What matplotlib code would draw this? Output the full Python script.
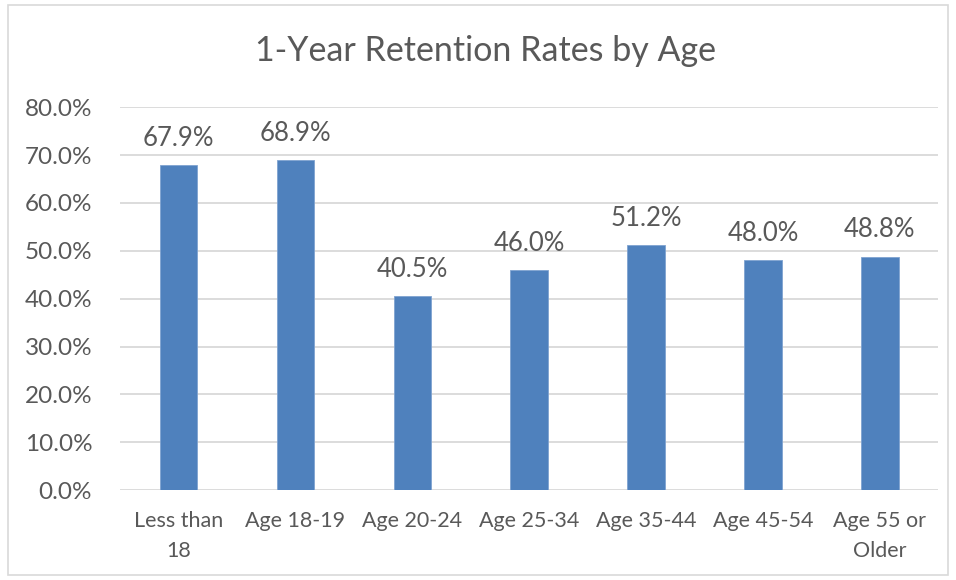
import matplotlib.pyplot as plt
from matplotlib.patches import Rectangle

categories = ['Less than\n18', 'Age 18-19', 'Age 20-24', 'Age 25-34',
              'Age 35-44', 'Age 45-54', 'Age 55 or\nOlder']
rates = [67.9, 68.9, 40.5, 46.0, 51.2, 48.0, 48.8]
yticks = [0, 10, 20, 30, 40, 50, 60, 70, 80]

plt.rcParams['font.family'] = ['Lato', 'DejaVu Sans']
text_col = '#595959'

fig = plt.figure(figsize=(9.56, 5.8), dpi=100)
ax = fig.add_axes([0.1255, 0.155, 0.856, 0.66])

x = range(len(categories))
bars = ax.bar(x, rates, width=0.32, color='#4F81BD', edgecolor='#7FA3D0',
              linewidth=0.6, zorder=3)
for b, v in zip(bars, rates):
    ax.text(b.get_x() + b.get_width() / 2, v + 3.0, f'{v:.1f}%',
            ha='center', va='bottom', fontsize=18.5, color=text_col)

ax.set_xlim(-0.5, len(categories) - 0.5)
ax.set_ylim(0, 80)
ax.set_yticks(yticks)
ax.set_yticklabels([f'{t:.1f}%' for t in yticks], fontsize=17.5, color=text_col)
ax.set_xticks(list(x))
ax.set_xticklabels(categories, fontsize=15.5, color=text_col, linespacing=1.6)
ax.tick_params(axis='both', length=0)
ax.tick_params(axis='y', pad=20)
ax.tick_params(axis='x', pad=15)
ax.yaxis.grid(True, color='#D9D9D9', linewidth=1.3, zorder=0)
for s in ax.spines.values():
    s.set_visible(False)

fig.text(0.508, 0.912, '1-Year Retention Rates by Age', ha='center', va='center',
         fontsize=24.5, color=text_col)

fig.patches.append(Rectangle((0.008, 0.008), 0.984, 0.984, transform=fig.transFigure,
                             fill=False, edgecolor='#D9D9D9', linewidth=1.2))

fig.savefig('out.png', dpi=100)
